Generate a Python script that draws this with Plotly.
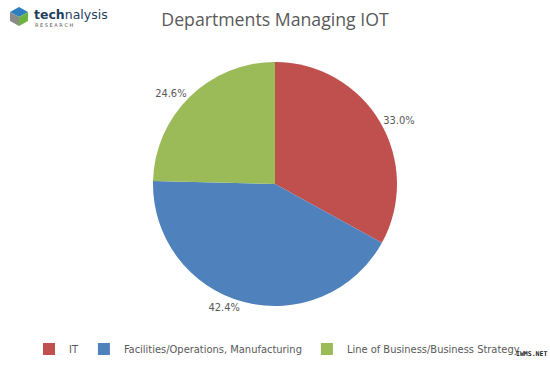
import plotly.graph_objects as go

categories = ["IT", "Facilities/Operations, Manufacturing", "Line of Business/Business Strategy"]
values = [33.0, 42.4, 24.6]
colors = ["#C0504D", "#4F81BD", "#9BBB59"]

W, H = 550, 367
cx, cy, r = 275, 184, 122

fig = go.Figure(go.Pie(
    labels=categories,
    values=values,
    sort=False,
    direction="clockwise",
    rotation=0,
    marker=dict(colors=colors, line=dict(color="white", width=0)),
    textposition="outside",
    texttemplate="%{value:.1f}%",
    textfont=dict(family="DejaVu Sans Condensed, Liberation Sans Narrow, Arial Narrow", size=11, color="#595959"),
    hoverinfo="label+percent",
    domain=dict(x=[(cx - r) / W, (cx + r) / W], y=[1 - (cy + r) / H, 1 - (cy - r) / H]),
))

fig.update_layout(
    width=W, height=H,
    margin=dict(l=0, r=0, t=0, b=0),
    paper_bgcolor="white",
    plot_bgcolor="white",
    title=dict(text="Departments Managing IOT", x=0.5, xanchor="center", y=1 - 20 / H, yanchor="middle",
               font=dict(family="Open Sans, Noto Sans", size=17.7, color="#595959")),
    showlegend=True,
    legend=dict(orientation="h", x=277 / W, xanchor="center", y=1 - 349 / H, yanchor="middle",
                font=dict(family="DejaVu Sans Condensed, Liberation Sans Narrow, Arial Narrow", size=11, color="#595959"),
                itemsizing="constant", itemwidth=30, traceorder="normal"),
    annotations=[
        dict(text="<b>tech</b>nalysis", x=32 / W, y=1 - 14 / H, xref="paper", yref="paper", xanchor="left", yanchor="middle",
             showarrow=False, font=dict(family="DejaVu Sans", size=12.5, color="#1F3F5F")),
        dict(text="R E S E A R C H", x=33 / W, y=1 - 25 / H, xref="paper", yref="paper", xanchor="left", yanchor="middle",
             showarrow=False, font=dict(family="DejaVu Sans", size=5, color="#555555")),
        dict(text="<b>IWMS.NET</b>", x=549 / W, y=1 - 354 / H, xref="paper", yref="paper", xanchor="right", yanchor="middle",
             showarrow=False, font=dict(family="DejaVu Sans Mono", size=6.5, color="#222222")),
    ],
    shapes=[
        dict(type="path", xref="paper", yref="paper",
             path="M {} {} L {} {} L {} {} L {} {} Z".format(10 / W, 1 - 12 / H, 19 / W, 1 - 7 / H, 28 / W, 1 - 12 / H, 19 / W, 1 - 17 / H),
             fillcolor="#2E7FBF", line=dict(width=0)),
        dict(type="path", xref="paper", yref="paper",
             path="M {} {} L {} {} L {} {} L {} {} Z".format(10 / W, 1 - 12 / H, 19 / W, 1 - 17 / H, 19 / W, 1 - 26 / H, 10 / W, 1 - 21 / H),
             fillcolor="#8A8A8A", line=dict(width=0)),
        dict(type="path", xref="paper", yref="paper",
             path="M {} {} L {} {} L {} {} L {} {} Z".format(19 / W, 1 - 17 / H, 28 / W, 1 - 12 / H, 28 / W, 1 - 21 / H, 19 / W, 1 - 26 / H),
             fillcolor="#6DB33F", line=dict(width=0)),
    ],
)

fig.write_html("out.html", config={"displayModeBar": False},
               post_script="document.body.style.margin='0';document.body.style.padding='0';")
